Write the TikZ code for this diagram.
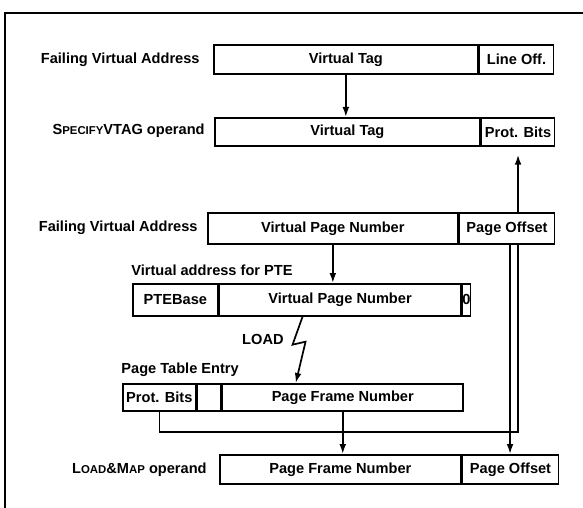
\documentclass[tikz,border=0pt]{standalone}
\usepackage{fontspec}
\setmainfont{Liberation Sans}
\usetikzlibrary{arrows.meta,backgrounds}
\newcommand\smc[1]{{\fontsize{5.7}{6}\selectfont #1}}
\begin{document}
\begin{tikzpicture}[x=0.5pt,y=-0.5pt,
  font=\fontsize{7.3}{8}\selectfont\bfseries,
  cell/.style={draw,fill=white,line width=0.85pt,inner sep=0pt,anchor=north west},
  lbl/.style={inner sep=0pt,anchor=east},
  caption/.style={inner sep=0pt,anchor=west},
  wire/.style={line width=0.85pt},
  arr/.style={wire,-{Latex[length=5pt,width=3.4pt]}}]
\useasboundingbox (0,0) rectangle (583,508);
\draw[wire] (5,508) -- (5,13) -- (583,13);

% cache line tag
\node[lbl] (fva1) at (200,60) {Failing Virtual Address};
\node[cell,minimum width=132pt,minimum height=14.5pt] (vtag1) at (213,44) {Virtual Tag};
\node[cell,minimum width=37pt,minimum height=14.5pt] (lineoff) at (vtag1.north east) {Line Off.};

\node[lbl] (svt) at (205,131) {S\smc{PECIFY}VTAG operand};
\node[cell,minimum width=132.5pt,minimum height=14pt] (vtag2) at (214,117) {Virtual Tag};
\node[cell,minimum width=36.5pt,minimum height=14pt] (protbits1) at (vtag2.north east) {Prot. Bits};

% page mapping
\node[lbl] (fva2) at (198,228) {Failing Virtual Address};
\node[cell,minimum width=125pt,minimum height=15.5pt] (vpn1) at (207,212) {Virtual Page Number};
\node[cell,minimum width=47.5pt,minimum height=15.5pt] (pgoff1) at (vpn1.north east) {Page Offset};

\node[caption] (vapte) at (131,270) {Virtual address for PTE};
\node[cell,minimum width=42.5pt,minimum height=16pt] (ptebase) at (132,283) {PTEBase};
\node[cell,minimum width=120.5pt,minimum height=16pt] (vpn2) at (ptebase.north east) {Virtual Page Number};
\node[cell,minimum width=3pt,minimum height=16pt] (zero) at (vpn2.north east) {0};

\node[lbl] (load) at (284,339) {LOAD};

\node[caption] (pte) at (121,370) {Page Table Entry};
\node[cell,minimum width=36.5pt,minimum height=13.5pt] (protbits2) at (122,383) {Prot. Bits};
\node[cell,minimum width=11.5pt,minimum height=13.5pt] (blank) at (protbits2.north east) {};
\node[cell,minimum width=120.5pt,minimum height=13.5pt] (pfn1) at (blank.north east) {Page Frame Number};

\node[lbl] (lmap) at (207,470) {L\smc{OAD}\&M\smc{AP} operand};
\node[cell,minimum width=120.5pt,minimum height=14.5pt] (pfn2) at (219,454) {Page Frame Number};
\node[cell,minimum width=48pt,minimum height=14.5pt] (pgoff2) at (pfn2.north east) {Page Offset};

\begin{scope}[on background layer]
\draw[arr] (vtag1.south) -- (vtag1.south |- vtag2.north);
\draw[arr] (vpn1.south) -- (vpn1.south |- vpn2.north);
\draw[arr] ([xshift=-18.75pt]vpn2.south) -- ++(-10,28) -- ++(13,-3) -- ([xshift=-23.5pt]pfn1.north);
\draw[arr] (pfn1.south) -- (pfn1.south |- pfn2.north);
\draw[arr] ([xshift=1.5pt]pgoff1.south) -- ([xshift=1.5pt]pgoff1.south |- pgoff2.north);
\draw[arr] (protbits2.south) -- ++(0,20) -| ([yshift=-4pt]protbits1.south);
\end{scope}
\end{tikzpicture}
\end{document}
